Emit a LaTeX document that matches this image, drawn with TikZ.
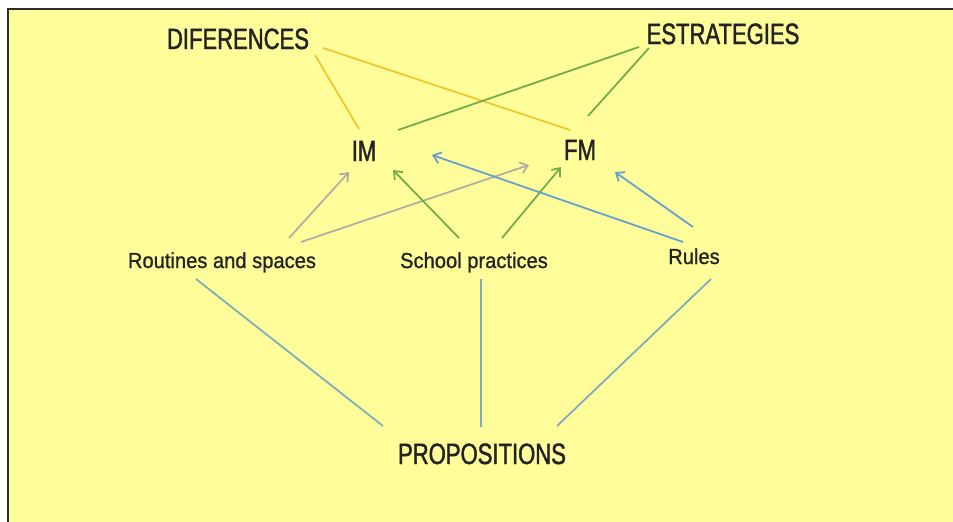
\documentclass[tikz,border=0pt]{standalone}
\usepackage{fontspec}
\setmainfont{Liberation Sans}
\newfontfamily\bigfont{Liberation Sans}[FakeStretch=0.75, FakeBold=1.4]
\newfontfamily\smallfont{Liberation Sans}[FakeStretch=0.93, FakeBold=1.0]
\usetikzlibrary{arrows.meta}
\definecolor{mpaper}{RGB}{255,253,153}
\definecolor{mframe}{RGB}{45,45,45}
\definecolor{mink}{RGB}{35,35,35}
\definecolor{mgold}{RGB}{240,198,45}
\definecolor{mgreen}{RGB}{112,172,72}
\definecolor{mgray}{RGB}{178,172,168}
\definecolor{mblue}{RGB}{98,160,205}
\definecolor{mslate}{RGB}{125,172,188}

\begin{document}
\begin{tikzpicture}[x=0.025cm, y=-0.025cm,
    concept/.style={anchor=base, inner sep=0pt, text=mink, font=\bigfont\fontsize{20.9}{24}\selectfont},
    aspect/.style={concept, font=\smallfont\fontsize{15.4}{18}\selectfont},
    link/.style={line width=1.25pt},
    link_dif/.style={link, mgold},
    link_est/.style={link, mgreen},
    link_prop/.style={link, mslate},
    arrow_exp/.style={link, -{Straight Barb[length=5pt,width=8pt]}},
    arrow_rout/.style={arrow_exp, mgray},
    arrow_school/.style={arrow_exp, mgreen},
    arrow_rules/.style={arrow_exp, mblue},
]
\useasboundingbox (0,0) rectangle (953,521);
\fill[white] (0,0) rectangle (953,521);
\filldraw[fill=mpaper, draw=mframe, line width=1.5pt] (8,9) rectangle (1000,560);

\node[concept] (dif) at (238,49) {DIFERENCES};
\node[concept] (est) at (723,44) {ESTRATEGIES};

\node[concept] (im) at (364,161) {IM};
\node[concept] (fm) at (580,160) {FM};

\node[aspect] (rout) at (222,268) {Routines and spaces};
\node[aspect] (school) at (474,268) {School practices};
\node[aspect] (rules) at (694,264) {Rules};

\node[concept] (prop) at (482,464) {PROPOSITIONS};

% upper links
\draw[link_dif] ([shift={(77,6)}]dif.base) -- ([shift={(-5,-32)}]im.base);
\draw[link_dif] ([shift={(85,-1)}]dif.base) -- ([shift={(-10,-30)}]fm.base);
\draw[link_est] ([shift={(-84,3)}]est.base) -- ([shift={(34,-31)}]im.base);
\draw[link_est] ([shift={(-74,4)}]est.base) -- ([shift={(8,-44)}]fm.base);

% arrows up to IM and FM
\draw[arrow_rout] ([shift={(67,-30)}]rout.base) -- ([shift={(-15,11)}]im.base);
\draw[arrow_rout] ([shift={(79,-26)}]rout.base) -- ([shift={(-51,5)}]fm.base);
\draw[arrow_school] ([shift={(-15,-30)}]school.base) -- ([shift={(29,9)}]im.base);
\draw[arrow_school] ([shift={(28,-30)}]school.base) -- ([shift={(-19,7)}]fm.base);
\draw[arrow_rules] ([shift={(-11,-22)}]rules.base) -- ([shift={(68,-6)}]im.base);
\draw[arrow_rules] ([shift={(-1,-37)}]rules.base) -- ([shift={(35,12)}]fm.base);

% lower links
\draw[link_prop] ([shift={(-26,11)}]rout.base) -- ([shift={(-99,-38)}]prop.base);
\draw[link_prop] ([shift={(7,11)}]school.base) -- ([shift={(-1,-37)}]prop.base);
\draw[link_prop] ([shift={(17,15)}]rules.base) -- ([shift={(75,-38)}]prop.base);

\end{tikzpicture}
\end{document}
